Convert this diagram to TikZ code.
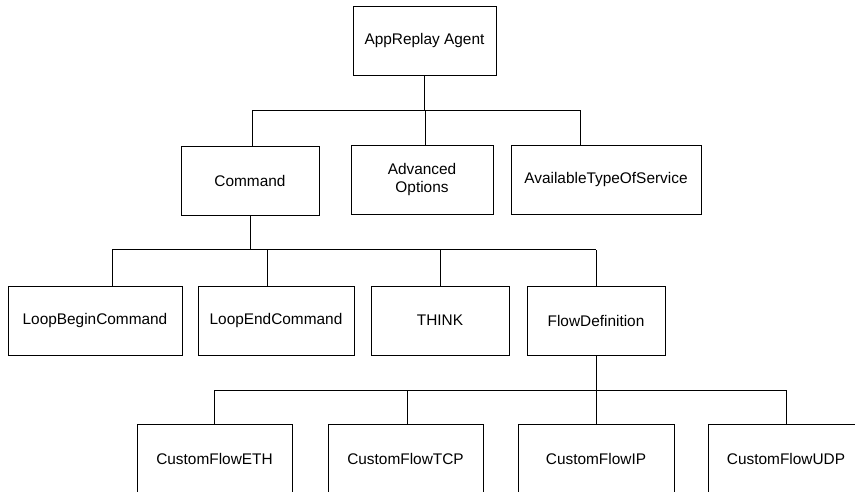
\documentclass[tikz,border=0pt]{standalone}
\usepackage{fontspec}
\setmainfont{Liberation Sans}
\begin{document}
\begin{tikzpicture}[x=1pt,y=-1pt,
  box/.style={draw, line width=0.9pt, rectangle, inner sep=0pt, minimum height=69pt,
    font=\fontsize{15.4}{18.5}\selectfont, align=center},
  link/.style={line width=0.9pt}]
\useasboundingbox (0,0) rectangle (855,491);
\clip (0,0) rectangle (855,491);
% level 0
\node[box, minimum width=143pt] (agent) at (424.5,41) {AppReplay Agent};
% level 1
\node[box, minimum width=138pt] (cmd) at (250,180.5) {Command};
\node[box, minimum width=142pt] (adv) at (422,179.5) {Advanced\\Options};
\node[box, minimum width=190pt] (avail) at (606,179.5) {AvailableTypeOfService};
% level 2
\node[box, minimum width=174pt] (lb) at (95,320.5) {LoopBeginCommand};
\node[box, minimum width=156pt] (le) at (276,320.5) {LoopEndCommand};
\node[box, minimum width=138pt] (think) at (440,320.5) {THINK};
\node[box, minimum width=138pt] (flow) at (596,320.5) {FlowDefinition};
% level 3
\node[box, minimum width=155pt, minimum height=70pt] (eth) at (214.5,459) {CustomFlowETH};
\node[box, minimum width=155pt, minimum height=70pt] (tcp) at (405.5,459) {CustomFlowTCP};
\node[box, minimum width=156pt, minimum height=70pt] (ip) at (596,459) {CustomFlowIP};
\node[box, minimum width=156pt, minimum height=70pt] (udp) at (786,459) {CustomFlowUDP};
% bus coordinates
\coordinate (b1) at (0,110);
\coordinate (b2) at (0,249.5);
\coordinate (b3) at (0,390);
% connectors level 0 -> 1
\draw[link] (agent.south) -- (agent.south |- b1);
\draw[link] ([xshift=2pt]cmd.north |- b1) -- ([xshift=-26pt]avail.north |- b1);
\draw[link] ([xshift=2pt]cmd.north) -- ([xshift=2pt]cmd.north |- b1);
\draw[link] ([xshift=3pt]adv.north) -- ([xshift=3pt]adv.north |- b1);
\draw[link] ([xshift=-26pt]avail.north) -- ([xshift=-26pt]avail.north |- b1);
% connectors level 1 -> 2
\draw[link] (cmd.south) -- (cmd.south |- b2);
\draw[link] ([xshift=17pt]lb.north |- b2) -- (flow.north |- b2);
\draw[link] ([xshift=17pt]lb.north) -- ([xshift=17pt]lb.north |- b2);
\draw[link] ([xshift=-9pt]le.north) -- ([xshift=-9pt]le.north |- b2);
\draw[link] (think.north) -- (think.north |- b2);
\draw[link] (flow.north) -- (flow.north |- b2);
% connectors level 2 -> 3
\draw[link] (flow.south) -- (flow.south |- b3);
\draw[link] (eth.north |- b3) -- (udp.north |- b3);
\draw[link] (eth.north) -- (eth.north |- b3);
\draw[link] ([xshift=1.5pt]tcp.north) -- ([xshift=1.5pt]tcp.north |- b3);
\draw[link] (ip.north) -- (ip.north |- b3);
\draw[link] (udp.north) -- (udp.north |- b3);
\end{tikzpicture}
\end{document}
